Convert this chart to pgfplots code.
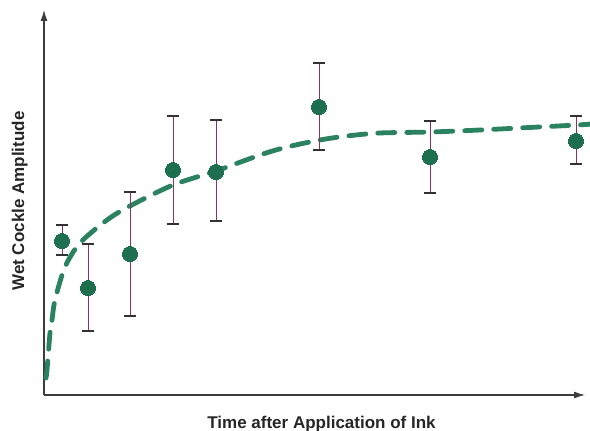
\documentclass[border=0pt]{standalone}
\usepackage{pgfplots}
\pgfplotsset{compat=1.18}
\usepackage{pgfplotstable}
\usepackage{fontspec}
\usetikzlibrary{arrows.meta}
\newfontfamily\labelfont{Liberation Sans}

\definecolor{curvegreen}{RGB}{42,130,96}
\definecolor{dotgreen}{RGB}{30,110,80}
\definecolor{stem}{RGB}{140,50,95}
\definecolor{capgray}{RGB}{50,50,50}
\definecolor{axisgray}{RGB}{60,60,60}

% measured amplitude: x, mean, upper and lower error
\pgfplotstableread{
x   y   ep  em
18  154 16  14
44  107 44  43
86  141 62  62
129 225 54  54
172 223 52  49
275 288 44  43
386 238 36  36
532 254 25  23
}\measured

% fitted trend
\pgfplotstableread{
x   y
2   17
3   25
6   62
8   75
11  95
21  128
36  152
63  175
86  189
129 210
172 224
216 240
243 248
276 255
303 259
336 262
386 263
436 265
533 270
546 271
}\trend

\begin{document}
\begin{tikzpicture}
\path[use as bounding box] (-44bp,-36bp) rectangle (546bp,395bp);
\begin{axis}[
  at={(0,0)}, anchor=south west,
  scale only axis,
  width=541bp, height=385bp,
  xmin=0, xmax=541, ymin=0, ymax=385,
  axis lines=left,
  axis line style={axisgray, line width=1.1bp, -{Latex[length=11bp,width=7bp]}},
  xtick=\empty, ytick=\empty,
  clip=false,
]
\addplot[curvegreen, line width=4.8bp, line cap=round,
  dash pattern=on 17bp off 12bp, smooth, tension=0.5]
  table[x=x, y=y] {\trend};

\addplot[only marks, mark=*, mark size=7.5bp,
  mark options={fill=dotgreen, draw=dotgreen, line width=0pt, solid}]
  table[x=x, y=y] {\measured};

\addplot[draw=none, mark=none,
  error bars/.cd, y dir=both, y explicit,
  error bar style={draw=stem, line width=0.9bp, solid},
  error mark options={draw=capgray, line width=1.1bp, mark size=6bp, rotate=90}]
  table[x=x, y=y, y error plus=ep, y error minus=em] {\measured};

\node[anchor=base, font=\labelfont\bfseries\fontsize{17bp}{20bp}\selectfont, text=black!85]
  at (axis cs:277.5,-33) {Time after Application of Ink};
\node[anchor=base, rotate=90, font=\labelfont\bfseries\fontsize{17bp}{20bp}\selectfont, text=black!85]
  at (axis cs:-20,194) {Wet Cockle Amplitude};
\end{axis}
\end{tikzpicture}
\end{document}
